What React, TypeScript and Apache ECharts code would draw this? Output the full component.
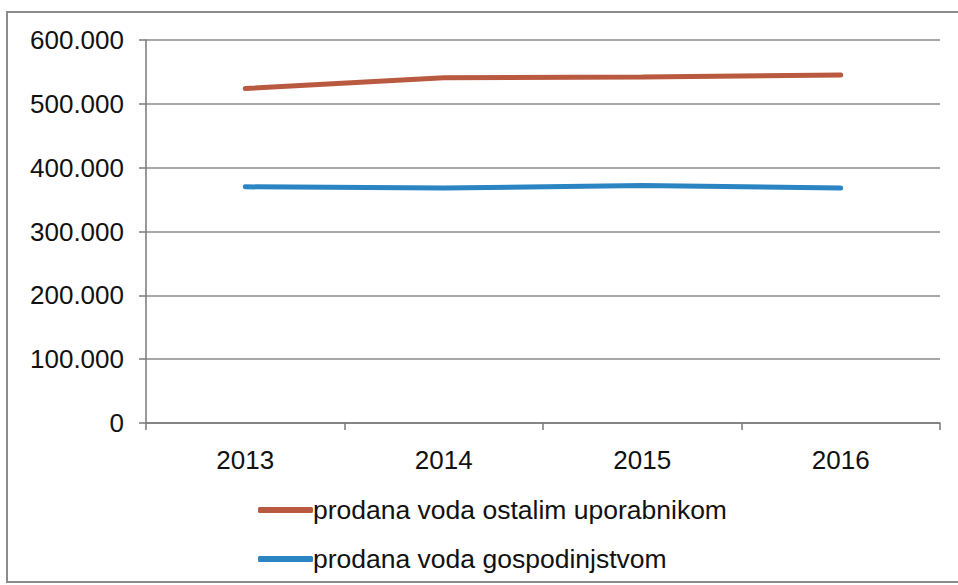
import React, { useEffect, useRef } from "react";
import * as echarts from "echarts";

const years = ["2013", "2014", "2015", "2016"];
const ostalimUporabnikom = [524000, 541000, 542000, 545000];
const gospodinjstvom = [370000, 368000, 372000, 368000];
const seriesNames = ["prodana voda ostalim uporabnikom", "prodana voda gospodinjstvom"];
const seriesColors = ["#B95A40", "#2B85C2"];

const fmt = (v: number) => String(v).replace(/\B(?=(\d{3})+(?!\d))/g, ".");

export default function App() {
  const ref = useRef<HTMLDivElement>(null);

  useEffect(() => {
    if (!ref.current) return;
    const chart = echarts.init(ref.current, null, { renderer: "svg" });
    const font = "Liberation Sans, Arial, sans-serif";
    chart.setOption({
      animation: false,
      backgroundColor: "#ffffff",
      textStyle: { fontFamily: font },
      grid: { left: 146, right: 18, top: 40, bottom: 162, containLabel: false },
      graphic: [
        {
          type: "rect",
          shape: { x: 7, y: 12, width: 980, height: 570 },
          style: { fill: "none", stroke: "#8c8c8c", lineWidth: 2 },
          silent: true,
        },
      ],
      xAxis: {
        type: "category",
        data: years,
        boundaryGap: true,
        axisLine: { lineStyle: { color: "#7a7a7a", width: 1.5 } },
        axisTick: { show: true, length: 7, lineStyle: { color: "#7a7a7a", width: 1.5 } },
        axisLabel: { color: "#111", fontSize: 26, fontFamily: font, margin: 24 },
      },
      yAxis: {
        type: "value",
        min: 0,
        max: 600000,
        interval: 100000,
        axisLine: { show: true, lineStyle: { color: "#7a7a7a", width: 1.5 } },
        axisTick: { show: true, length: 7, lineStyle: { color: "#7a7a7a", width: 1.5 } },
        splitLine: { lineStyle: { color: "#8a8a8a", width: 1.5 } },
        axisLabel: { color: "#111", fontSize: 26, fontFamily: font, margin: 22, formatter: (v: number) => fmt(v) },
      },
      legend: {
        orient: "vertical",
        left: 253,
        top: 489,
        icon: "roundRect",
        itemWidth: 55,
        itemHeight: 6,
        itemGap: 17,
        textStyle: { color: "#111", fontSize: 26.5, fontFamily: font, lineHeight: 32, padding: [0, 0, 0, -5] },
        data: seriesNames,
      },
      series: [
        {
          name: seriesNames[0],
          type: "line",
          data: ostalimUporabnikom,
          showSymbol: false,
          symbol: "none",
          lineStyle: { color: seriesColors[0], width: 5, cap: "round" },
          itemStyle: { color: seriesColors[0] },
        },
        {
          name: seriesNames[1],
          type: "line",
          data: gospodinjstvom,
          showSymbol: false,
          symbol: "none",
          lineStyle: { color: seriesColors[1], width: 5, cap: "round" },
          itemStyle: { color: seriesColors[1] },
        },
      ],
    });
    return () => chart.dispose();
  }, []);

  return <div ref={ref} style={{ position: "absolute", left: 0, top: 0, width: 958, height: 585 }} />;
}
